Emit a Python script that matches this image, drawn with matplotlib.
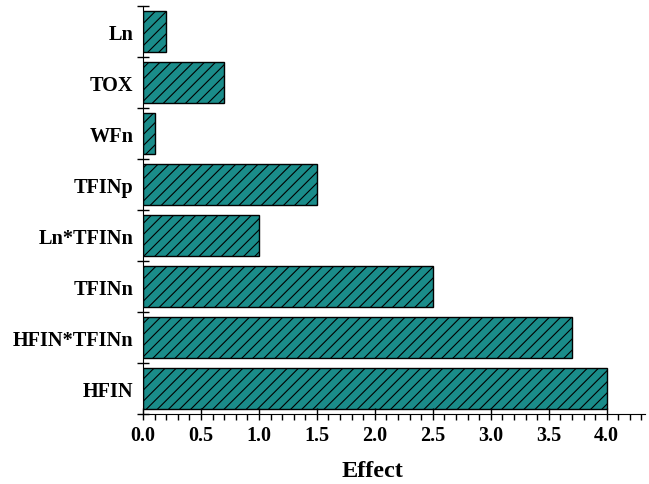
import matplotlib
matplotlib.use('Agg')
import matplotlib.pyplot as plt
from matplotlib.ticker import MultipleLocator, FixedLocator

# factors from bottom to top
factors = ['HFIN', 'HFIN*TFINn', 'TFINn', 'Ln*TFINn', 'TFINp', 'WFn', 'TOX', 'Ln']
effects = [4.0, 3.7, 2.5, 1.0, 1.5, 0.1, 0.7, 0.2]

plt.rcParams['font.family'] = ['Liberation Serif', 'DejaVu Serif']
plt.rcParams['font.weight'] = 'bold'
plt.rcParams['hatch.linewidth'] = 0.8

fig = plt.figure(figsize=(6.49, 4.85), dpi=100)
ax = fig.add_axes([0.2203, 0.1443, 0.7735, 0.841])

pos = list(range(len(factors)))
ax.barh(pos, effects, height=0.8, color='#1a8c8a', edgecolor='black',
        linewidth=1.0, hatch='///')

ax.set_xlim(0, 4.33)
ax.set_ylim(-0.5, len(factors) - 0.5)

ax.set_yticks(pos)
ax.set_yticklabels(factors, fontsize=14.6, fontweight='bold')
ax.yaxis.set_minor_locator(FixedLocator([p - 0.5 for p in range(len(factors) + 1)]))
ax.tick_params(axis='y', which='major', length=0, pad=7)
ax.tick_params(axis='y', which='minor', direction='inout', length=8, width=1)

ax.xaxis.set_major_locator(MultipleLocator(0.5))
ax.xaxis.set_minor_locator(MultipleLocator(0.1))
ax.tick_params(axis='x', which='major', direction='inout', length=8, width=1, labelsize=14.5, pad=4)
ax.tick_params(axis='x', which='minor', direction='out', length=4, width=1)
for lbl in ax.get_xticklabels():
    lbl.set_fontweight('bold')

ax.set_xlabel('Effect', fontsize=17.5, fontweight='bold')
ax.xaxis.set_label_coords(0.458, -0.112)

ax.spines['top'].set_visible(False)
ax.spines['right'].set_visible(False)

fig.savefig('out.png', dpi=100)
